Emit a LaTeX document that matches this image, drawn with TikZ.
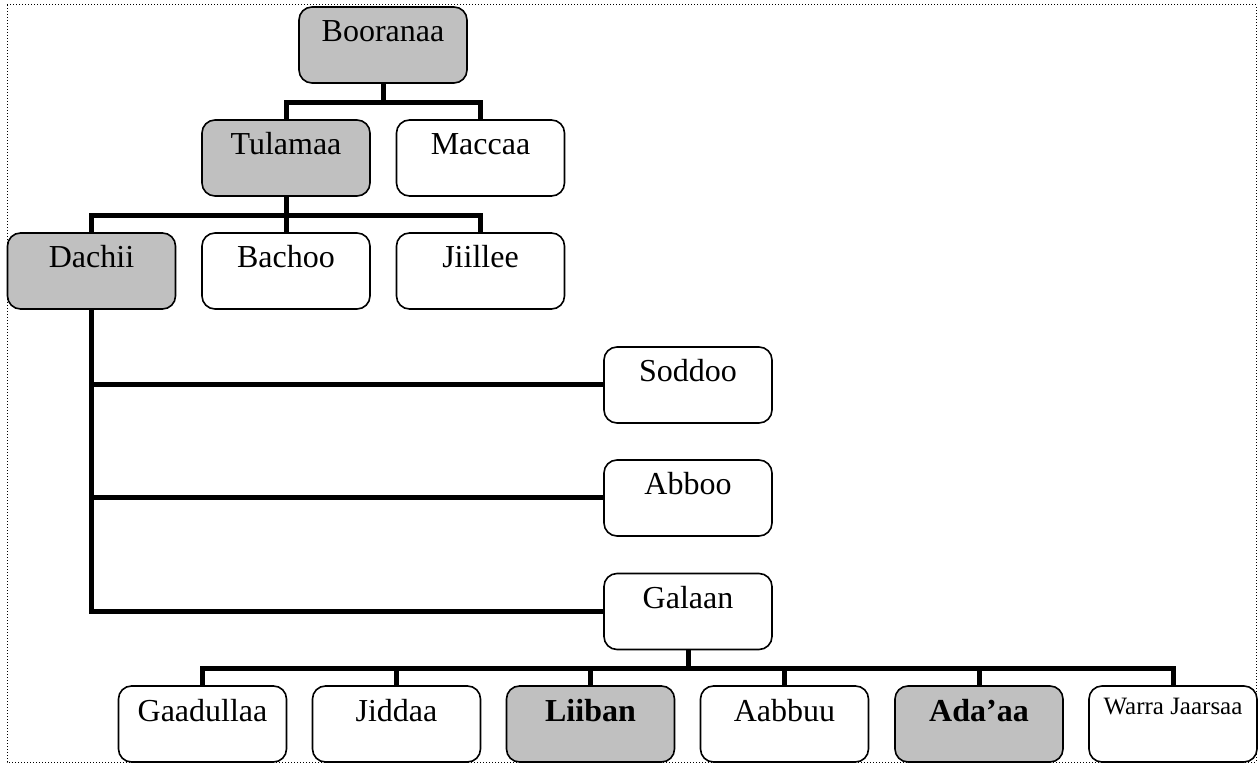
\documentclass[tikz,border=0pt]{standalone}
\usepackage{fontspec}
\setmainfont{Liberation Serif}
\definecolor{clangray}{HTML}{C0C0C0}

\begin{document}
\begin{tikzpicture}[x=0.5pt, y=-0.5pt,
    clan/.style={draw=black, line width=0.8pt, rounded corners=6.5pt, fill=white,
      minimum width=84pt, minimum height=38pt, inner sep=0pt,
      text height=17.5pt, text depth=20.5pt, font=\fontsize{16}{19}\selectfont},
    mainclan/.style={clan, fill=clangray},
    smallclan/.style={clan, text height=14pt, text depth=24pt,
      font=\fontsize{12.5}{15}\selectfont},
    link/.style={line width=2.5pt}]

    \useasboundingbox (0,0) rectangle (1259,764);

    % ====== FRAME ======
    \draw[densely dotted, line width=0.5pt] (7,5) rectangle (1256,762);

    % ====== TOP LEVELS ======
    \node[mainclan] (booranaa) at (383,45) {Booranaa};
    \node[mainclan] (tulamaa) at (286,158) {Tulamaa};
    \node[clan] (maccaa) at (480.5,158) {Maccaa};

    \node[mainclan] (dachii) at (91.5,271) {Dachii};
    \node[clan] (bachoo) at (286,271) {Bachoo};
    \node[clan] (jiillee) at (480.5,271) {Jiillee};

    % ====== DACHII BRANCHES ======
    \node[clan] (soddoo) at (688,385) {Soddoo};
    \node[clan] (abboo) at (688,498) {Abboo};
    \node[clan] (galaan) at (688,611.5) {Galaan};

    % ====== GALAAN BRANCHES ======
    \node[clan] (gaadullaa) at (202.5,724) {Gaadullaa};
    \node[clan] (jiddaa) at (396.5,724) {Jiddaa};
    \node[mainclan] (liiban) at (590.5,724) {\textbf{Liiban}};
    \node[clan] (aabbuu) at (784.5,724) {Aabbuu};
    \node[mainclan] (adaaa) at (979,724) {\textbf{Ada’aa}};
    \node[smallclan] (warra) at (1173,724) {Warra Jaarsaa};

    % ====== LINKS ======
    \foreach \n in {tulamaa,maccaa} {
      \draw[link] (booranaa.south) -- ++(0,18.5) -| (\n.north);
    }
    \foreach \n in {dachii,bachoo,jiillee} {
      \draw[link] (tulamaa.south) -- ++(0,18.5) -| (\n.north);
    }
    \foreach \n in {soddoo,abboo,galaan} {
      \draw[link] (dachii.south) |- (\n.west);
    }
    \foreach \n in {gaadullaa,jiddaa,liiban,aabbuu,adaaa,warra} {
      \draw[link] (galaan.south) -- ++(0,18.5) -| (\n.north);
    }

  \end{tikzpicture}
\end{document}
